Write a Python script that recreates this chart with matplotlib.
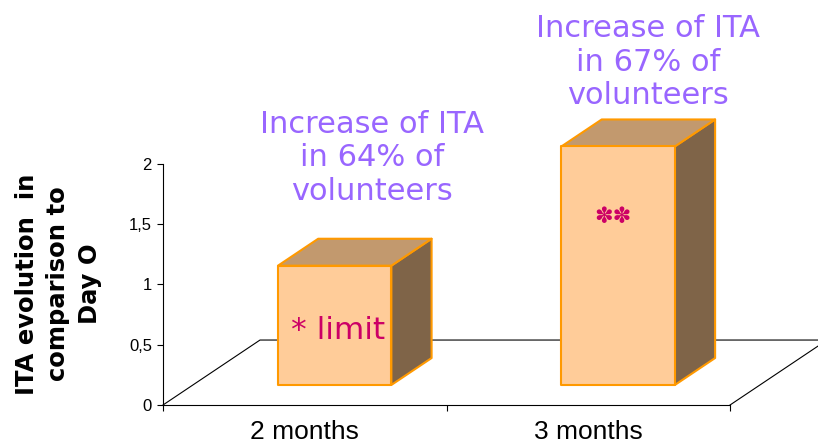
import matplotlib
matplotlib.use('Agg')
import matplotlib.pyplot as plt
from matplotlib.patches import Polygon

# Datos
categorias = ['2 months', '3 months']
valores = [0.99, 1.98]
notas_barra = ['* limit', '✽✽']
comentarios = ['Increase of ITA\nin 64% of\nvolunteers', 'Increase of ITA\nin 67% of\nvolunteers']
yticks = [0, 0.5, 1, 1.5, 2]
ytick_labels = ['0', '0,5', '1', '1,5', '2']

# Colores estilo Excel 3D
c_frente = '#FFCC99'
c_arriba = '#C2996E'
c_lado = '#7F6448'
c_borde = '#FF9900'
c_morado = '#9966FF'
c_magenta = '#CC0066'

# Profundidad del piso (en unidades de datos) y posicion de las barras dentro
DX, DY = 0.342, 0.539
f0, f1 = 0.308, 0.723
ancho = 0.4

fig = plt.figure(figsize=(8.18, 4.47), dpi=100)
ax = fig.add_axes([0.1993, 0.094, 0.6932, 0.5391])
ax.set_xlim(-0.5, 1.5)
ax.set_ylim(0, 2)

# Piso
ax.plot([-0.5, -0.5 + DX, 1.5 + DX], [0, DY, DY], color='black', lw=0.8, clip_on=False, zorder=1)
ax.plot([1.5, 1.5 + DX], [0, DY], color='black', lw=0.8, clip_on=False, zorder=1)

# Barras 3D
for i, v in enumerate(valores):
    x0 = i - ancho / 2 + f0 * DX
    x1 = i + ancho / 2 + f0 * DX
    y0 = f0 * DY
    y1 = y0 + v
    ddx = (f1 - f0) * DX
    ddy = (f1 - f0) * DY
    frente = [(x0, y0), (x1, y0), (x1, y1), (x0, y1)]
    arriba = [(x0, y1), (x1, y1), (x1 + ddx, y1 + ddy), (x0 + ddx, y1 + ddy)]
    lado = [(x1, y0), (x1 + ddx, y0 + ddy), (x1 + ddx, y1 + ddy), (x1, y1)]
    for pts, col in [(lado, c_lado), (arriba, c_arriba), (frente, c_frente)]:
        ax.add_patch(Polygon(pts, closed=True, facecolor=col, edgecolor=c_borde,
                             lw=1.5, clip_on=False, zorder=2, joinstyle='round'))

# Textos dentro de las barras
ax.text(-0.048, 0.545, notas_barra[0], color=c_magenta, fontsize=22.5,
        family='DejaVu Sans', ha='left', va='baseline', zorder=3)
ax.text(1.087, 1.56, notas_barra[1], color=c_magenta, fontsize=16,
        family='DejaVu Sans', ha='center', va='center', zorder=3)

# Comentarios en morado
ax.text(0.237, 2.05, comentarios[0], color=c_morado, fontsize=22, family='DejaVu Sans',
        ha='center', va='center', multialignment='center', linespacing=1.2, clip_on=False)
ax.text(1.211, 2.846, comentarios[1], color=c_morado, fontsize=22, family='DejaVu Sans',
        ha='center', va='center', multialignment='center', linespacing=1.2, clip_on=False)

# Ejes
for s in ['top', 'right']:
    ax.spines[s].set_visible(False)
ax.spines['left'].set_linewidth(0.8)
ax.spines['bottom'].set_linewidth(0.8)
ax.patch.set_alpha(0)

ax.set_yticks(yticks)
ax.set_yticklabels(ytick_labels, fontsize=12, family='Liberation Sans')
ax.tick_params(axis='y', length=4, width=0.8, pad=4)

ax.set_xticks([0, 1])
ax.set_xticklabels(categorias, fontsize=19, family='Liberation Sans')
ax.set_xticks([-0.5, 0.5, 1.5], minor=True)
ax.tick_params(axis='x', which='major', length=0, pad=11)
ax.tick_params(axis='x', which='minor', length=4, width=0.8)

ax.set_ylabel('ITA evolution  in\ncomparison to\nDay O', fontsize=17.5, fontweight='bold',
              family='DejaVu Sans', va='center', linespacing=1.4)
ax.yaxis.set_label_coords(-0.185, 0.502)

fig.savefig('out.png', dpi=100)
